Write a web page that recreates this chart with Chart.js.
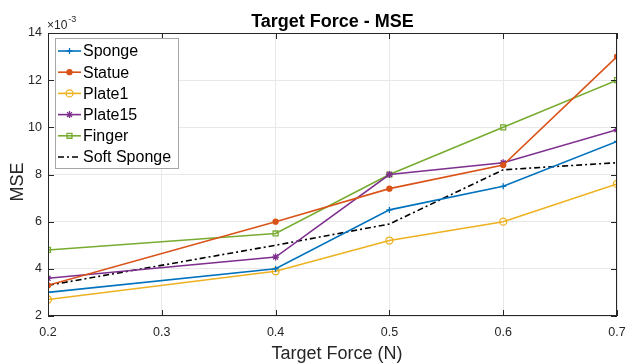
<!DOCTYPE html>
<html lang="en">
<head>
  <meta charset="UTF-8">
  <title>Target Force - MSE</title>
  <script src="https://cdn.jsdelivr.net/npm/chart.js"></script>
  <style>
    * { box-sizing: border-box; }
    html, body { margin: 0; padding: 0; background: #fff; }
    .wrap { width: 627px; height: 364px; position: relative; }
  </style>
</head>
<body>
<div class="wrap">
  <canvas id="mseChart" width="627" height="364"></canvas>
</div>

<script>
// target forces (N)
const forces = [0.2, 0.4, 0.5, 0.6, 0.7];

// MSE values, in units of 1e-3
const sponge     = [3.0, 4.0, 6.5, 7.5, 9.4];
const statue     = [3.3, 6.0, 7.4, 8.4, 13.0];
const plate1     = [2.7, 3.9, 5.2, 6.0, 7.6];
const plate15    = [3.6, 4.5, 8.0, 8.5, 9.9];
const finger     = [4.8, 5.5, 8.0, 10.0, 12.0];
const softSponge = [3.3, 5.0, 5.9, 8.2, 8.5];

const seriesNames = ['Sponge', 'Statue', 'Plate1', 'Plate15', 'Finger', 'Soft Sponge'];

const FONT = "'Liberation Sans', Arial, Helvetica, sans-serif";
const AXIS = '#262626';

function pts(ys) {
  return forces.map((x, i) => ({ x: x, y: ys[i] }));
}

function series(label, ys, color, style, radius, fill, dash) {
  return {
    label: label,
    data: pts(ys),
    borderColor: color,
    backgroundColor: fill ? color : 'rgba(0,0,0,0)',
    pointBorderColor: color,
    pointBackgroundColor: fill ? color : 'rgba(0,0,0,0)',
    pointStyle: style,
    pointRadius: radius,
    pointBorderWidth: 1.3,
    pointHoverRadius: radius,
    borderWidth: 1.6,
    borderDash: dash || [],
    tension: 0
  };
}

const datasets = [
  series(seriesNames[0], sponge, '#0072BD', 'cross', 3, false),
  series(seriesNames[1], statue, '#D95319', 'circle', 2.5, true),
  series(seriesNames[2], plate1, '#EDB120', 'circle', 3.5, false),
  series(seriesNames[3], plate15, '#7E2F8E', 'star', 3.5, false),
  series(seriesNames[4], finger, '#77AC30', 'rect', 3.5, false),
  series(seriesNames[5], softSponge, '#000000', false, 0, false, [6, 3, 2, 3])
];

// title, box, inward ticks, axis titles, x10^-3 and legend in matlab style
const matlabLook = {
  id: 'matlabLook',
  afterDraw(chart) {
    const c = chart.ctx;
    const a = chart.chartArea;
    const xs = chart.scales.x, ys = chart.scales.y;
    c.save();

    // box
    c.strokeStyle = AXIS;
    c.lineWidth = 1;
    c.strokeRect(a.left + 0.5, a.top + 0.5, a.right - a.left - 1, a.bottom - a.top - 1);

    // inward ticks
    const t = 6;
    c.beginPath();
    xs.ticks.forEach(tk => {
      const px = Math.round(xs.getPixelForValue(tk.value)) + 0.5;
      c.moveTo(px, a.bottom); c.lineTo(px, a.bottom - t);
      c.moveTo(px, a.top); c.lineTo(px, a.top + t);
    });
    ys.ticks.forEach(tk => {
      const py = Math.round(ys.getPixelForValue(tk.value)) + 0.5;
      c.moveTo(a.left, py); c.lineTo(a.left + t, py);
      c.moveTo(a.right, py); c.lineTo(a.right - t, py);
    });
    c.stroke();

    // title
    c.fillStyle = '#000';
    c.font = 'bold 18px ' + FONT;
    c.textAlign = 'center';
    c.textBaseline = 'alphabetic';
    c.fillText('Target Force - MSE', (a.left + a.right) / 2, 27);

    // axis titles
    c.fillStyle = AXIS;
    c.font = '18px ' + FONT;
    c.fillText('Target Force (N)', 337, 359);
    c.save();
    c.translate(23, 182);
    c.rotate(-Math.PI / 2);
    c.fillText('MSE', 0, 0);
    c.restore();

    // exponent
    c.textAlign = 'left';
    c.font = '12px ' + FONT;
    c.fillText('\u00d710', 47, 29);
    const w = c.measureText('\u00d710').width;
    c.font = '9px ' + FONT;
    c.fillText('-3', 47 + w + 1, 22);

    // legend
    const lx = 55, ly = 38, lw = 123, lh = 130, row = 21.2;
    c.fillStyle = '#fff';
    c.fillRect(lx, ly, lw, lh);
    c.strokeStyle = '#a6a6a6';
    c.lineWidth = 1;
    c.strokeRect(lx + 0.5, ly + 0.5, lw, lh);
    chart.data.datasets.forEach((ds, i) => {
      const yy = ly + 13 + i * row;
      c.strokeStyle = ds.borderColor;
      c.lineWidth = 1.6;
      c.setLineDash(ds.borderDash);
      c.beginPath();
      c.moveTo(lx + 3, yy);
      c.lineTo(lx + 26, yy);
      c.stroke();
      c.setLineDash([]);
      if (ds.pointStyle) {
        c.fillStyle = ds.pointBackgroundColor;
        c.strokeStyle = ds.pointBorderColor;
        c.lineWidth = 1.3;
        Chart.helpers.drawPoint(c, {
          pointStyle: ds.pointStyle,
          radius: ds.pointRadius,
          borderWidth: 1.3,
          rotation: 0
        }, lx + 14.5, yy);
      }
      c.fillStyle = '#000';
      c.font = '16px ' + FONT;
      c.textAlign = 'left';
      c.textBaseline = 'middle';
      c.fillText(ds.label, lx + 28, yy + 1);
    });
    c.restore();
  }
};

new Chart(document.getElementById('mseChart'), {
  type: 'line',
  data: { datasets: datasets },
  options: {
    responsive: false,
    animation: false,
    layout: { padding: { top: 33, right: 10, left: 0, bottom: 0 } },
    plugins: {
      legend: { display: false },
      title: { display: false },
      tooltip: { enabled: false }
    },
    scales: {
      x: {
        type: 'linear',
        min: 0.2,
        max: 0.7,
        afterFit(s) {
          s.height = 48;
          s.paddingLeft = 0;
          s.paddingRight = 0;
        },
        ticks: {
          stepSize: 0.1,
          padding: 9,
          color: AXIS,
          font: { family: FONT, size: 12.5 },
          maxRotation: 0,
          callback: v => v.toFixed(1)
        },
        grid: { color: '#e8e8e8', drawTicks: false },
        border: { display: false },
        title: { display: false }
      },
      y: {
        min: 2,
        max: 14,
        afterFit(s) {
          s.width = 48;
          s.paddingTop = 0;
          s.paddingBottom = 0;
        },
        ticks: {
          stepSize: 2,
          padding: 6,
          color: AXIS,
          font: { family: FONT, size: 12.5 }
        },
        grid: { color: '#e8e8e8', drawTicks: false },
        border: { display: false },
        title: { display: false }
      }
    }
  },
  plugins: [matlabLook]
});
</script>
</body>
</html>
